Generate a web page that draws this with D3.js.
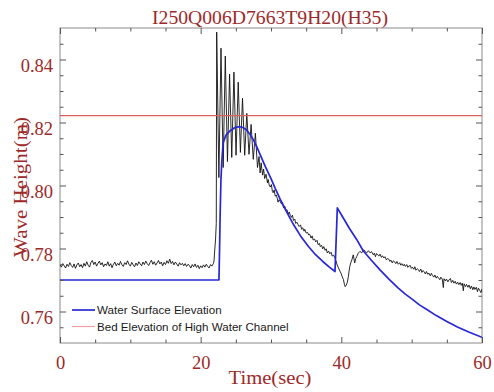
<!DOCTYPE html>
<html>
<head>
<meta charset="utf-8">
<script src="https://cdn.jsdelivr.net/npm/d3@7/dist/d3.min.js"></script>
<style>
  html, body { margin: 0; padding: 0; background: #fff; }
  svg { display: block; }
</style>
</head>
<body>
<svg id="chart" width="494" height="392"></svg>
<script>
// ---------------- DATA ----------------
const titleText = "I250Q006D7663T9H20(H35)";
const xLabel = "Time(sec)";
const yLabel = "Wave Height(m)";
const xTicks = [0, 20, 40, 60];
const xTickLabels = ["0", "20", "40", "60"];
const xMinor = [5, 10, 15, 25, 30, 35, 45, 50, 55];
const yTicks = [0.76, 0.78, 0.80, 0.82, 0.84];
const yTickLabels = ["0.76", "0.78", "0.80", "0.82", "0.84"];
const yMinor = [0.755, 0.765, 0.77, 0.775, 0.785, 0.79, 0.795, 0.805, 0.81, 0.815, 0.825, 0.83, 0.835, 0.845];
const legendLabels = ["Water Surface Elevation", "Bed Elevation of High Water Channel"];

// bed elevation of the high water channel (m)
const bedElevation = 0.8222;

// computed water surface elevation [time s, elevation m]
const waterSurface = [
  [0,.7700],[22.6,.7700],[22.68,.7790],[22.78,.7920],[22.88,.8015],[23.0,.8075],[23.2,.8136],
  [23.6,.8160],[24.2,.8174],[24.9,.8184],[25.5,.8187],[26.0,.8184],[26.5,.8177],[27.0,.8163],
  [27.5,.8145],[28.0,.8122],[28.44,.8099],[29.2,.8060],[30.0,.8022],[30.6,.7991],[31.3,.7957],
  [32.2,.7917],[33.2,.7876],[34.2,.7840],[35.3,.7807],[36.3,.7781],[37.4,.7758],[38.3,.7741],
  [39.1,.7727],[39.43,.7929],[40.3,.7896],[41.2,.7862],[42.2,.7828],[43.1,.7793],[44.3,.7762],
  [45.5,.7732],[46.8,.7702],[48.1,.7674],[49.1,.7655],[50.2,.7637],[51.1,.7621],[52.1,.7607],
  [53.5,.7587],[55.0,.7568],[56.5,.7551],[58.2,.7534],[60.0,.7518]
];

// measured wave height [time s, height m]
const measured = [
  [0.0,.7748],[0.2,.7741],[0.4,.7752],[0.6,.7745],[0.8,.7738],[1.0,.7750],[1.2,.7743],[1.4,.7755],
  [1.6,.7746],[1.8,.7740],[2.0,.7751],[2.2,.7737],[2.4,.7748],[2.6,.7754],[2.8,.7742],[3.0,.7749],
  [3.2,.7739],[3.4,.7753],[3.6,.7744],[3.8,.7758],[4.0,.7747],[4.2,.7741],[4.4,.7756],[4.6,.7762],
  [4.8,.7749],[5.0,.7757],[5.2,.7744],[5.4,.7753],[5.6,.7760],[5.8,.7748],[6.0,.7755],[6.2,.7742],
  [6.4,.7751],[6.6,.7746],[6.8,.7758],[7.0,.7744],[7.2,.7752],[7.4,.7739],[7.6,.7750],[7.8,.7757],
  [8.0,.7745],[8.2,.7753],[8.4,.7747],[8.6,.7759],[8.8,.7748],[9.0,.7743],[9.2,.7755],[9.4,.7749],
  [9.6,.7761],[9.8,.7750],[10.0,.7744],[10.2,.7756],[10.4,.7748],[10.6,.7742],[10.8,.7754],[11.0,.7746],
  [11.2,.7758],[11.4,.7751],[11.6,.7745],[11.8,.7757],[12.0,.7749],[12.2,.7760],[12.4,.7752],[12.6,.7746],
  [12.8,.7755],[13.0,.7763],[13.2,.7750],[13.4,.7758],[13.6,.7747],[13.8,.7754],[14.0,.7762],[14.2,.7751],
  [14.4,.7757],[14.6,.7745],[14.8,.7756],[15.0,.7749],[15.2,.7761],[15.4,.7753],[15.6,.7766],[15.8,.7752],
  [16.0,.7759],[16.2,.7748],[16.4,.7757],[16.6,.7751],[16.8,.7744],[17.0,.7755],[17.2,.7748],[17.4,.7753],
  [17.6,.7745],[17.8,.7752],[18.0,.7743],[18.2,.7750],[18.4,.7746],[18.6,.7738],[18.8,.7749],[19.0,.7742],
  [19.2,.7751],[19.4,.7740],[19.6,.7747],[19.8,.7736],[20.0,.7745],[20.2,.7739],[20.4,.7748],[20.6,.7741],
  [20.8,.7750],[21.0,.7743],[21.2,.7738],[21.4,.7749],[21.6,.7744],[21.8,.7752],
  [21.9,.7760],[22.0,.7795],[22.12,.7830],[22.22,.7880],[22.28,.8487],[22.59,.8025],[22.89,.8436],
  [23.20,.8057],[23.50,.8411],[23.81,.8076],[24.11,.8354],[24.42,.8089],[24.73,.8360],[25.03,.8096],
  [25.34,.8328],[25.65,.8105],[25.95,.8277],[26.26,.8096],[26.56,.8229],[26.87,.8099],[27.17,.8194],
  [27.48,.8083],[27.78,.8166],[28.08,.8057],
  [28.3,.8092],[28.45,.8040],[28.6,.8072],[28.8,.8033],[28.95,.8052],[29.1,.8022],[29.3,.8036],
  [29.5,.8008],[29.6,.8019],[29.75,.8001],[29.9,.7995],[30.05,.8003],[30.2,.7981],[30.3,.7977],
  [30.45,.7986],[30.6,.7966],[30.75,.7970],[30.9,.7958],[31.0,.7947],[31.15,.7955],[31.3,.7950],
  [31.5,.7941],[31.6,.7946],[31.8,.7929],[31.95,.7935],[32.1,.7924],[32.3,.7922],[32.45,.7909],
  [32.6,.7916],[32.75,.7905],[32.9,.7899],[33.05,.7906],[33.2,.7889],[33.4,.7893],[33.5,.7880],
  [33.7,.7883],[33.85,.7876],[34.0,.7870],[34.2,.7875],[34.35,.7861],[34.5,.7866],[34.7,.7855],
  [34.8,.7861],[35.0,.7849],[35.2,.7851],[35.35,.7843],[35.5,.7845],[35.7,.7833],[35.85,.7840],
  [36.0,.7827],[36.2,.7830],[36.35,.7821],[36.55,.7826],[36.7,.7812],[36.9,.7816],[37.0,.7806],
  [37.2,.7810],[37.35,.7799],[37.5,.7806],[37.7,.7794],[37.85,.7799],[38.0,.7786],[38.2,.7792],
  [38.35,.7783],[38.55,.7788],[38.7,.7776],[38.9,.7779],[39.05,.7772],[39.25,.7760],
  [39.4,.7748],[39.6,.7738],[39.8,.7728],[39.95,.7722],[40.1,.7712],[40.3,.7701],[40.45,.7685],
  [40.55,.7679],[40.7,.7684],[40.85,.7692],[41.0,.7711],[41.1,.7728],[41.2,.7743],[41.35,.7755],
  [41.5,.7764],[41.7,.7780],[41.9,.7754],[42.05,.7768],[42.2,.7775],[42.4,.7785],[42.65,.7791],
  [42.9,.7786],[43.2,.7796],[43.4,.7790],[43.6,.7786],[43.85,.7793],[44.1,.7786],[44.3,.7790],
  [44.55,.7780],[44.7,.7785],[44.85,.7774],[45.0,.7784],[45.2,.7779],[45.35,.7776],[45.5,.7782],
  [45.7,.7772],[45.85,.7777],[46.05,.7770],[46.2,.7774],[46.4,.7764],[46.55,.7768],[46.75,.7766],
  [46.9,.7759],[47.05,.7763],[47.25,.7754],[47.4,.7761],[47.6,.7757],[47.75,.7752],[47.9,.7759],
  [48.1,.7750],[48.3,.7755],[48.45,.7747],[48.6,.7752],[48.8,.7745],[48.95,.7750],[49.1,.7743],
  [49.3,.7749],[49.45,.7740],[49.6,.7744],[49.8,.7746],[49.95,.7737],[50.1,.7741],[50.3,.7734],
  [50.45,.7742],[50.6,.7731],[50.8,.7736],[50.95,.7733],[51.1,.7727],[51.3,.7735],[51.45,.7724],
  [51.6,.7730],[51.8,.7726],[51.95,.7719],[52.1,.7727],[52.3,.7718],[52.45,.7722],[52.65,.7713],
  [52.8,.7721],[52.95,.7715],[53.15,.7709],[53.3,.7716],[53.5,.7706],[53.65,.7712],[53.8,.7707],
  [54.0,.7701],[54.15,.7709],[54.35,.7703],[54.5,.7676],[54.6,.7704],[54.8,.7697],[54.95,.7703],
  [55.15,.7694],[55.3,.7700],[55.5,.7705],[55.65,.7692],[55.85,.7699],[56.0,.7690],[56.2,.7696],
  [56.35,.7687],[56.55,.7693],[56.7,.7685],[56.9,.7692],[57.05,.7683],[57.2,.7690],[57.35,.7666],
  [57.45,.7688],[57.65,.7679],[57.8,.7686],[58.0,.7677],[58.15,.7684],[58.35,.7672],[58.5,.7681],
  [58.7,.7669],[58.85,.7678],[59.0,.7670],[59.2,.7677],[59.35,.7663],[59.5,.7674],[59.7,.7666],
  [59.85,.7660],[60.0,.7672]
];

// ---------------- CHART ----------------
const svg = d3.select("#chart");
const L = 60, R = 482, T = 28, B = 343;
const textRed = "#9c2a2a";
const bedColor = "#dd5e5e";
const serif = "'Liberation Serif', 'Times New Roman', serif";
const sans = "'Liberation Sans', Arial, sans-serif";

const x = d3.scaleLinear().domain([0, 60]).range([L, R]);
const y = d3.scaleLinear().domain([0.75, 0.85]).range([B, T]);

svg.append("clipPath").attr("id", "plotclip")
  .append("rect").attr("x", L).attr("y", T).attr("width", R - L).attr("height", B - T);

const line = d3.line().x(d => x(d[0])).y(d => y(d[1]));

// frame
svg.append("rect").attr("x", L).attr("y", T).attr("width", R - L).attr("height", B - T)
  .attr("fill", "none").attr("stroke", "#8a8a8a").attr("stroke-width", 1);

const plot = svg.append("g").attr("clip-path", "url(#plotclip)");

// measured
plot.append("path").datum(measured)
  .attr("d", line).attr("fill", "none")
  .style("stroke", "#111").style("stroke-width", 0.9).style("stroke-linejoin", "round");

// water surface
plot.append("path").datum(waterSurface)
  .attr("d", line).attr("fill", "none")
  .style("stroke", "#2727d6").style("stroke-width", 1.7).style("stroke-linejoin", "round");

// bed elevation (drawn as a path through the scales)
svg.append("path").datum([[0, bedElevation], [60, bedElevation]])
  .attr("d", line).attr("fill", "none")
  .style("stroke", bedColor).style("stroke-width", 1.2);

function styleAxis(g, withText) {
  g.select(".domain").remove();
  g.selectAll(".tick line").attr("stroke", "#555").attr("stroke-width", 1);
  if (withText) {
    g.selectAll(".tick text").attr("fill", textRed)
      .style("font-family", serif).style("font-size", "18.5px");
  } else {
    g.selectAll(".tick text").remove();
  }
}

// bottom
const gxB = svg.append("g").attr("transform", `translate(0,${B})`)
  .call(d3.axisBottom(x).tickValues(xTicks).tickSize(-6).tickPadding(13)
    .tickFormat((d, i) => xTickLabels[i]));
styleAxis(gxB, true);
svg.append("g").attr("transform", `translate(0,${B})`)
  .call(d3.axisBottom(x).tickValues(xMinor).tickSize(-3.5).tickFormat(""))
  .call(g => styleAxis(g, false));
// top
svg.append("g").attr("transform", `translate(0,${T})`)
  .call(d3.axisTop(x).tickValues(xTicks).tickSize(-6).tickFormat(""))
  .call(g => styleAxis(g, false));
svg.append("g").attr("transform", `translate(0,${T})`)
  .call(d3.axisTop(x).tickValues(xMinor).tickSize(-3.5).tickFormat(""))
  .call(g => styleAxis(g, false));
// left
const gyL = svg.append("g").attr("transform", `translate(${L},0)`)
  .call(d3.axisLeft(y).tickValues(yTicks).tickSize(-6).tickPadding(7)
    .tickFormat((d, i) => yTickLabels[i]));
styleAxis(gyL, true);
gyL.selectAll(".tick text").attr("dy", "0.66em");
svg.append("g").attr("transform", `translate(${L},0)`)
  .call(d3.axisLeft(y).tickValues(yMinor).tickSize(-3.5).tickFormat(""))
  .call(g => styleAxis(g, false));
// right
svg.append("g").attr("transform", `translate(${R},0)`)
  .call(d3.axisRight(y).tickValues(yTicks).tickSize(-6).tickFormat(""))
  .call(g => styleAxis(g, false));
svg.append("g").attr("transform", `translate(${R},0)`)
  .call(d3.axisRight(y).tickValues(yMinor).tickSize(-3.5).tickFormat(""))
  .call(g => styleAxis(g, false));

// title
svg.append("text").attr("x", 270).attr("y", 23.5).attr("text-anchor", "middle")
  .attr("textLength", 236).attr("lengthAdjust", "spacingAndGlyphs")
  .attr("fill", textRed).style("font-family", serif).style("font-size", "18px")
  .text(titleText);

// x label
svg.append("text").attr("x", 270).attr("y", 384).attr("text-anchor", "middle")
  .attr("textLength", 83).attr("lengthAdjust", "spacingAndGlyphs")
  .attr("fill", textRed).style("font-family", serif).style("font-size", "18.5px")
  .text(xLabel);

// y label
svg.append("text").attr("transform", "translate(27,187) rotate(-90)")
  .attr("text-anchor", "middle")
  .attr("textLength", 140).attr("lengthAdjust", "spacingAndGlyphs")
  .attr("fill", textRed).style("font-family", serif).style("font-size", "19px")
  .text(yLabel);

// legend
const legendColors = ["#2727d6", "#f0a0a0"];
const lg = svg.append("g");
legendLabels.forEach((lab, i) => {
  const yy = 310 + i * 16.5;
  lg.append("line").attr("x1", 72).attr("x2", 95).attr("y1", yy).attr("y2", yy)
    .style("stroke", legendColors[i]).style("stroke-width", i === 0 ? 1.7 : 1.2);
  lg.append("text").attr("x", 97).attr("y", yy + 4.2)
    .attr("fill", "#1a1a1a").style("font-family", sans).style("font-size", "11.6px")
    .text(lab);
});
</script>
</body>
</html>
